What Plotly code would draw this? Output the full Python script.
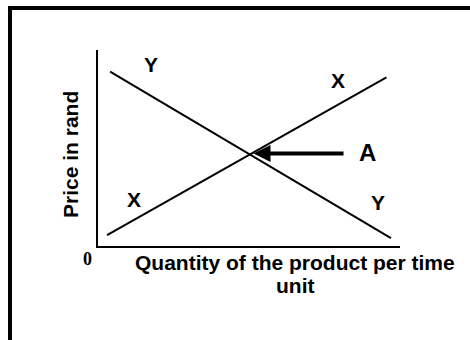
import plotly.graph_objects as go

# Curves of the diagram (quantity on x, price on y, arbitrary 0-10 units)
y_curve_q = [0.4, 9.7]
y_curve_p = [8.9, 0.4]
x_curve_q = [0.3, 9.55]
x_curve_p = [0.55, 8.6]

# Equilibrium point A and where the arrow starts
point_a = (5.15, 4.72)
arrow_tail = (8.18, 4.72)

# Curve labels: text, quantity, price
curve_labels = ['Y', 'X', 'X', 'Y']
label_q = [1.77, 7.94, 1.18, 9.26]
label_p = [9.26, 8.45, 2.39, 2.21]

x_title = ['Quantity of the product per time', 'unit']
y_title = 'Price in rand'
origin_label = '0'

# pixel layout of the plot area inside the 470x340 page
W, H = 470, 340
L, R, T, B = 98, 400, 50, 246


def px(x):
    return (x - L) / (R - L)


def py(y):
    return (B - y) / (B - T)


bold = dict(family='Liberation Sans, Arial', size=21, color='black', weight='bold')

fig = go.Figure()

for q, p in [(y_curve_q, y_curve_p), (x_curve_q, x_curve_p)]:
    fig.add_trace(go.Scatter(
        x=q, y=p, mode='lines',
        line=dict(color='black', width=2),
        showlegend=False, hoverinfo='skip'
    ))

annotations = []
for txt, q, p in zip(curve_labels, label_q, label_p):
    annotations.append(dict(x=q, y=p, xref='x', yref='y', text=txt,
                            xanchor='center', yanchor='middle',
                            showarrow=False, font=bold))

# arrow pointing at the intersection
annotations.append(dict(
    x=point_a[0], y=point_a[1], ax=arrow_tail[0], ay=arrow_tail[1],
    xref='x', yref='y', axref='x', ayref='y', text='',
    showarrow=True, arrowhead=2, arrowsize=0.85, arrowwidth=4,
    arrowcolor='black', standoff=0
))
annotations.append(dict(x=8.93, y=4.75, xref='x', yref='y', text='A',
                        xanchor='center', yanchor='middle',
                        showarrow=False, font=dict(bold, size=24)))

# axis titles and origin
annotations.append(dict(x=px(70), y=py(155), xref='paper', yref='paper',
                        text=y_title, textangle=-90, showarrow=False,
                        xanchor='center', yanchor='middle', font=bold))
annotations.append(dict(x=px(295), y=py(262.5), xref='paper', yref='paper',
                        text=x_title[0], showarrow=False,
                        xanchor='center', yanchor='middle', font=bold))
annotations.append(dict(x=px(295), y=py(285.5), xref='paper', yref='paper',
                        text=x_title[1], showarrow=False,
                        xanchor='center', yanchor='middle', font=bold))
annotations.append(dict(x=px(87), y=py(259), xref='paper', yref='paper',
                        text=origin_label, showarrow=False,
                        xanchor='center', yanchor='middle',
                        font=dict(family='Liberation Serif, Times New Roman',
                                  size=18, color='black', weight='bold')))

# outer frame (right and bottom sides fall outside the page)
shapes = [dict(type='rect', xref='paper', yref='paper',
               x0=px(10), x1=px(490), y0=py(360), y1=py(8),
               line=dict(color='black', width=4))]

fig.update_layout(
    width=W, height=H,
    margin=dict(l=L, r=W - R, t=T, b=H - B, pad=0),
    paper_bgcolor='white', plot_bgcolor='white',
    xaxis=dict(range=[0, 10], showgrid=False, zeroline=False,
               showticklabels=False, ticks='', showline=True,
               linecolor='black', linewidth=2),
    yaxis=dict(range=[0, 10], showgrid=False, zeroline=False,
               showticklabels=False, ticks='', showline=True,
               linecolor='black', linewidth=2),
    annotations=annotations,
    shapes=shapes,
    showlegend=False
)

# drop the default 8px body margin so the figure sits at the page corner
fig.write_html('out.html', config={'displayModeBar': False},
               post_script="document.body.style.margin='0';")
